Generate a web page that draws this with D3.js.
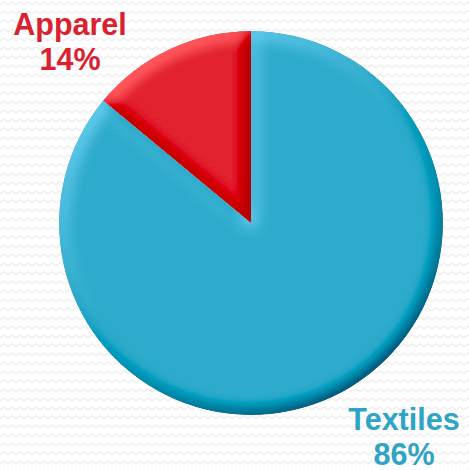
<!DOCTYPE html>
<html>
<head>
<meta charset="utf-8">
<script src="https://cdn.jsdelivr.net/npm/d3@7/dist/d3.min.js"></script>
<style>
  html, body { margin: 0; padding: 0; background: #fff; }
  svg { display: block; }
</style>
</head>
<body>
<svg id="chart" width="469" height="470"></svg>
<script>
// Share of the sector: textiles vs apparel
const categories = ["Textiles", "Apparel"];
const values = [86, 14];
const valueLabels = ["86%", "14%"];
const colors = ["#2eabcc", "#e2202d"];
const labelColors = ["#2fa4c4", "#d9222f"];

const W = 469, H = 470;
const cx = 251, cy = 223, R = 192;

const svg = d3.select("#chart");
const defs = svg.append("defs");

// faint zigzag background texture
const pat = defs.append("pattern")
  .attr("id", "zig").attr("patternUnits", "userSpaceOnUse")
  .attr("width", 8).attr("height", 9);
pat.append("polyline")
  .attr("points", "0,5 4,2 8,5")
  .attr("fill", "none").attr("stroke", "#efefef").attr("stroke-width", 1.5);
svg.append("rect").attr("width", W).attr("height", H).attr("fill", "#fff");
svg.append("rect").attr("width", W).attr("height", H).attr("fill", "url(#zig)");

// bevel: diffuse light on the blurred alpha; flat areas keep their colour,
// edges facing the light brighten and edges facing away darken
const flat = 0.7, mix = 0.72, k3 = 0.3;
const f = defs.append("filter").attr("id", "bevel")
  .attr("x", "-10%").attr("y", "-10%").attr("width", "120%").attr("height", "120%");
f.append("feGaussianBlur").attr("in", "SourceAlpha").attr("stdDeviation", 7.5).attr("result", "blur");
const diff = f.append("feDiffuseLighting").attr("in", "blur")
  .attr("surfaceScale", 5).attr("diffuseConstant", flat / Math.sin(45 * Math.PI / 180))
  .attr("lighting-color", "#fff").attr("result", "diff");
diff.append("feDistantLight").attr("azimuth", 235).attr("elevation", 45);
f.append("feComposite").attr("in", "SourceGraphic").attr("in2", "diff")
  .attr("operator", "arithmetic")
  .attr("k1", mix / flat).attr("k2", 1 - mix).attr("k3", k3).attr("k4", -k3 * flat)
  .attr("result", "lit");
f.append("feComposite").attr("in", "lit").attr("in2", "SourceAlpha").attr("operator", "in");

const pie = d3.pie().sort(null).value(d => d.v);
const data = categories.map((c, i) => ({ c, v: values[i], i }));
const arcs = pie(data);
const arc = d3.arc().innerRadius(0).outerRadius(R);

const g = svg.append("g").attr("transform", `translate(${cx},${cy})`);
g.selectAll("path.slice").data(arcs).join("path")
  .attr("class", "slice")
  .attr("d", arc)
  .attr("fill", d => colors[d.data.i])
  .attr("filter", "url(#bevel)");

// category labels with percentages
const labelPos = [
  { x: 404, y1: 430, y2: 465 },   // Textiles
  { x: 70, y1: 35, y2: 70 }       // Apparel
];
categories.forEach((c, i) => {
  const t = svg.append("text")
    .attr("text-anchor", "middle")
    .attr("font-family", "Liberation Sans, Arial, sans-serif")
    .attr("font-weight", "bold")
    .attr("font-size", 30.5)
    .attr("fill", labelColors[i]);
  t.append("tspan").attr("x", labelPos[i].x).attr("y", labelPos[i].y1).text(c);
  t.append("tspan").attr("x", labelPos[i].x).attr("y", labelPos[i].y2).text(valueLabels[i]);
});
</script>
</body>
</html>
